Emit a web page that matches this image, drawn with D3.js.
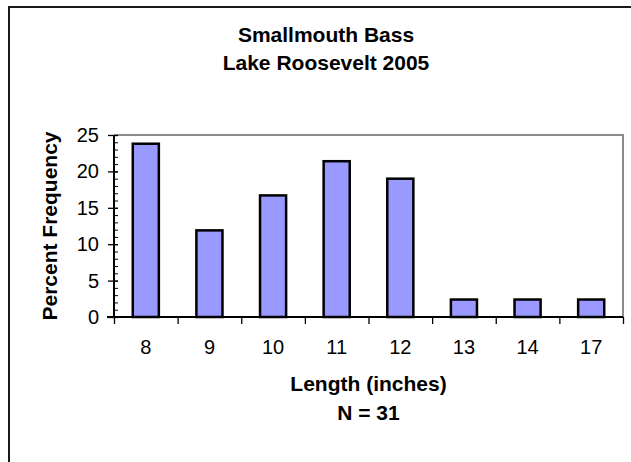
<!DOCTYPE html>
<html>
<head>
<meta charset="utf-8">
<title>Smallmouth Bass - Lake Roosevelt 2005</title>
<script src="https://cdn.jsdelivr.net/npm/d3@7"></script>
<style>
    * { margin: 0; padding: 0; }
    body { background: #fff; }
    text { font-family: "Liberation Sans", Arial, sans-serif; fill: #000; }
</style>
</head>
<body>
<script>
    // length classes (inches) and percent frequency
    var lengths = ["8", "9", "10", "11", "12", "13", "14", "17"];
    var percents = [23.8, 11.9, 16.7, 21.4, 19.0, 2.4, 2.4, 2.4];
    var yTicks = [0, 5, 10, 15, 20, 25];
    var titleLines = ["Smallmouth Bass", "Lake Roosevelt 2005"];
    var xTitleLines = ["Length (inches)", "N = 31"];

    var data = lengths.map(function(d, i) {
        return { len: d, pct: percents[i] };
    });

    var W = 631, H = 462;
    var plot = { left: 114, right: 623, top: 135, bottom: 317 };

    var svg = d3.select("body").append("svg")
        .attr("width", W)
        .attr("height", H);

    // outer chart frame (runs off the right and bottom edges)
    svg.append("rect")
        .attr("x", 9)
        .attr("y", 7)
        .attr("width", 660)
        .attr("height", 480)
        .attr("fill", "none")
        .attr("stroke", "#1a1a1a")
        .attr("stroke-width", 2);

    var x = d3.scaleBand()
        .domain(lengths)
        .range([plot.left, plot.right])
        .paddingInner(0.59)
        .paddingOuter(0.295);

    var y = d3.scaleLinear()
        .domain([0, 25])
        .range([plot.bottom, plot.top]);

    // grey plot border on top and right
    svg.append("path")
        .attr("d", "M" + plot.left + "," + plot.top + "H" + plot.right + "V" + plot.bottom)
        .attr("fill", "none")
        .attr("stroke", "#8c8c8c")
        .attr("stroke-width", 2);

    // bars
    svg.selectAll(".bar")
        .data(data)
        .enter().append("rect")
        .attr("class", "bar")
        .attr("x", function(d) { return x(d.len); })
        .attr("y", function(d) { return y(d.pct); })
        .attr("width", x.bandwidth())
        .attr("height", function(d) { return y(0) - y(d.pct); })
        .attr("fill", "#9999ff")
        .attr("stroke", "#000")
        .attr("stroke-width", 2.5);

    // y axis, major ticks with labels
    var yAxis = svg.append("g")
        .attr("transform", "translate(" + plot.left + ",0)")
        .call(d3.axisLeft(y).tickValues(yTicks).tickSize(6).tickPadding(9));
    yAxis.select(".domain").remove();
    yAxis.selectAll("line").attr("x2", -6).attr("x1", 4).attr("stroke-width", 1.3);
    yAxis.selectAll("text")
        .style("font-size", "20px")
        .attr("font-family", null);

    // minor ticks inside the axis
    var yMinor = svg.append("g")
        .attr("transform", "translate(" + plot.left + ",0)")
        .call(d3.axisRight(y).ticks(25).tickSize(4).tickFormat(""));
    yMinor.select(".domain").remove();
    yMinor.selectAll("line").attr("stroke-width", 1);

    // x axis labels centred in each band
    var xAxis = svg.append("g")
        .attr("transform", "translate(0," + plot.bottom + ")")
        .call(d3.axisBottom(x).tickSize(0).tickPadding(23));
    xAxis.select(".domain").remove();
    xAxis.selectAll("text")
        .style("font-size", "20px")
        .attr("font-family", null);

    // x tick marks on the category boundaries
    var xEdge = d3.scaleLinear().domain([0, lengths.length]).range([plot.left, plot.right]);
    var xTicks = svg.append("g")
        .attr("transform", "translate(0," + plot.bottom + ")")
        .call(d3.axisBottom(xEdge).ticks(lengths.length).tickSize(7).tickFormat(""));
    xTicks.select(".domain").remove();
    xTicks.selectAll("line").attr("stroke-width", 1.3);

    // axis lines
    svg.append("line")
        .attr("x1", plot.left).attr("x2", plot.left)
        .attr("y1", plot.top).attr("y2", plot.bottom)
        .attr("stroke", "#000").attr("stroke-width", 2);
    svg.append("line")
        .attr("x1", plot.left - 7).attr("x2", plot.right)
        .attr("y1", plot.bottom).attr("y2", plot.bottom)
        .attr("stroke", "#000").attr("stroke-width", 2);

    // title
    svg.selectAll(".title")
        .data(titleLines)
        .enter().append("text")
        .attr("class", "title")
        .attr("x", 326)
        .attr("y", function(d, i) { return 42 + i * 28; })
        .attr("text-anchor", "middle")
        .style("font-size", "21px")
        .style("font-weight", "bold")
        .text(function(d) { return d; });

    // x axis title
    svg.selectAll(".xtitle")
        .data(xTitleLines)
        .enter().append("text")
        .attr("class", "xtitle")
        .attr("x", (plot.left + plot.right) / 2)
        .attr("y", function(d, i) { return 391 + i * 29; })
        .attr("text-anchor", "middle")
        .style("font-size", "21px")
        .style("font-weight", "bold")
        .text(function(d) { return d; });

    // y axis title
    svg.append("text")
        .attr("transform", "translate(57," + ((plot.top + plot.bottom) / 2) + ") rotate(-90)")
        .attr("text-anchor", "middle")
        .style("font-size", "21px")
        .style("font-weight", "bold")
        .text("Percent Frequency");
</script>
</body>
</html>
